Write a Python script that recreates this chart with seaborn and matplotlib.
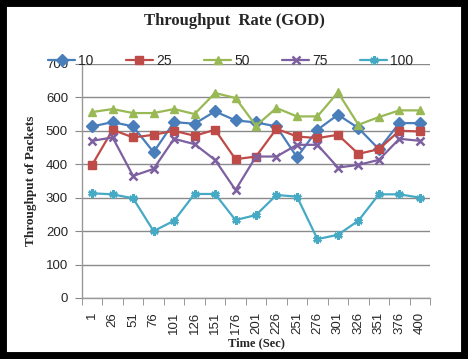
import pandas as pd
import seaborn as sns
import matplotlib.pyplot as plt
from matplotlib.patches import Rectangle


# Data
time_labels = ['1', '26', '51', '76', '101', '126', '151', '176', '201',
               '226', '251', '276', '301', '326', '351', '376', '400']
series_names = ['10', '25', '50', '75', '100']
tp_10 = [513, 526, 513, 436, 526, 521, 558, 531, 525, 513, 421, 503, 548, 508, 445, 523, 523]
tp_25 = [398, 503, 480, 488, 500, 485, 503, 415, 423, 506, 483, 478, 488, 431, 445, 500, 498]
tp_50 = [556, 565, 553, 553, 565, 550, 613, 598, 515, 568, 543, 543, 615, 518, 541, 561, 561]
tp_75 = [470, 480, 365, 386, 476, 460, 413, 323, 423, 423, 458, 458, 390, 398, 413, 476, 470]
tp_100 = [313, 310, 298, 200, 231, 311, 311, 233, 248, 308, 303, 176, 189, 231, 310, 310, 300]

colors = ['#4A7EBB', '#BE4B48', '#98B954', '#7D60A0', '#46AAC5']
markers = ['D', 's', '^', 'x', (6, 2, 0)]

#%%
sns.set_style('white')
plt.rcParams['font.family'] = ['Liberation Sans', 'DejaVu Sans']

fig = plt.figure(figsize=(4.68, 3.59), dpi=100)
ax = fig.add_axes([0.175, 0.170, 0.744, 0.652])

idx = list(range(len(time_labels)))
for name, vals, c, m in zip(series_names, [tp_10, tp_25, tp_50, tp_75, tp_100], colors, markers):
    df = pd.DataFrame({'t': idx, 'v': vals})
    sns.lineplot(data=df, x='t', y='v', ax=ax, color=c, marker=m, markersize=6,
                 markeredgecolor=c, markeredgewidth=1.8 if m in ('x', (6, 2, 0)) else 1,
                 linewidth=1.6, label=name, legend=False)

# axes styling, Excel-like
ax.set_ylim(0, 700)
ax.set_yticks(range(0, 701, 100))
ax.set_xlim(-0.5, len(time_labels) - 0.5)
ax.set_xticks(idx)
ax.set_xticklabels(time_labels, rotation=90, fontsize=9.5)
ax.set_xticks([i - 0.5 for i in range(len(time_labels) + 1)], minor=True)
ax.tick_params(axis='x', which='major', length=0, pad=10)
ax.tick_params(axis='x', which='minor', length=5, color='#888888', direction='out', bottom=True)
ax.tick_params(axis='y', length=5, color='#888888', direction='out', left=True, labelsize=9.5, pad=5)
ax.yaxis.grid(True, color='#8a8a8a', linewidth=1)
ax.xaxis.grid(False)
for s in ['top', 'right']:
    ax.spines[s].set_visible(False)
for s in ['left', 'bottom']:
    ax.spines[s].set_color('#999999')
    ax.spines[s].set_linewidth(1)

ax.set_xlabel('Time (Sec)', fontsize=9, fontweight='bold', family='Liberation Serif', labelpad=2)
ax.set_ylabel('Throughput of Packets', fontsize=9.5, fontweight='bold', family='Liberation Serif', labelpad=6)

fig.suptitle('Throughput  Rate (GOD)', x=0.5, y=0.965, fontsize=12, fontweight='bold',
             family='Liberation Serif')

handles, labels = ax.get_legend_handles_labels()
fig.legend(handles, labels, loc='lower left', ncol=5, mode='expand',
           bbox_to_anchor=(0.09, 0.795, 0.805, 0.06), frameon=False, fontsize=10,
           handlelength=2.0, handletextpad=0.2, borderaxespad=0)

# black picture frame
fig.patches.append(Rectangle((0, 0), 1, 1, transform=fig.transFigure, fill=False,
                             edgecolor='black', linewidth=10, zorder=10))

fig.savefig('out.png', dpi=100)
